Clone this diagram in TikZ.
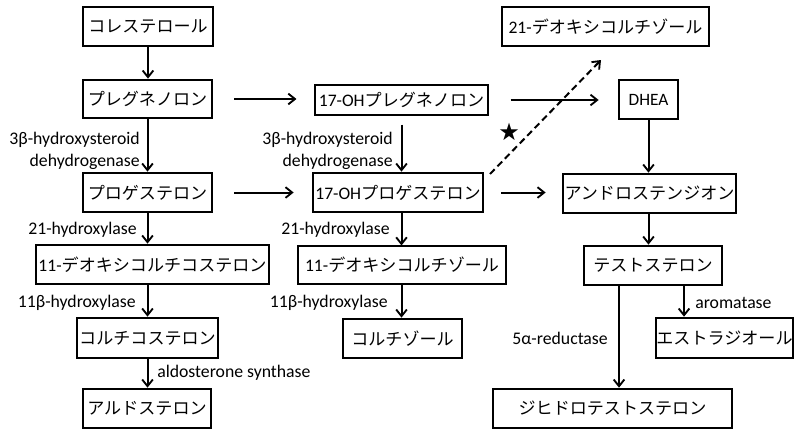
\documentclass[tikz,border=0pt]{standalone}
\usepackage{fontspec}
\setmainfont{Carlito}
\newfontfamily\jp{Noto Sans CJK JP}
\newfontfamily\symf{DejaVu Sans}
\usetikzlibrary{arrows.meta}
\begin{document}
\begin{tikzpicture}[x=0.75pt,y=-0.75pt,
  thinbox/.style={draw, line width=0.8pt, inner sep=0pt, font=\jp\fontsize{12.8}{14}\selectfont},
  thickbox/.style={thinbox, line width=2pt},
  arr/.style={line width=1.5pt, -{Straight Barb[length=5pt,width=8pt,line width=1.4pt]}},
  lbl/.style={inner sep=0pt, font=\fontsize{13.3}{16.5}\selectfont}]
\useasboundingbox (0,0) rectangle (795,429);
% left column
\node[thinbox, minimum width={130*0.75pt}, minimum height={39*0.75pt}] (chol) at (148,26.5) {コレステロール};
\node[thickbox, minimum width={129*0.75pt}, minimum height={38*0.75pt}] (preg) at (147.5,99) {プレグネノロン};
\node[thickbox, minimum width={129*0.75pt}, minimum height={39*0.75pt}] (prog) at (147.5,192.5) {プロゲステロン};
\node[thickbox, minimum width={233*0.75pt}, minimum height={39*0.75pt}] (doc) at (152.5,264.5) {{\rmfamily\fontsize{13.2}{14}\selectfont 11-}デオキシコルチコステロン};
\node[thickbox, minimum width={141*0.75pt}, minimum height={40*0.75pt}] (cort) at (147.5,338) {コルチコステロン};
\node[thickbox, minimum width={128*0.75pt}, minimum height={39*0.75pt}] (aldo) at (147,408.5) {アルドステロン};
% middle column
\node[thinbox, minimum width={173*0.75pt}, minimum height={30*0.75pt}] (ohpreg) at (401.5,100) {{\rmfamily\fontsize{13.2}{14}\selectfont 17-OH}プレグネノロン};
\node[thickbox, minimum width={170*0.75pt}, minimum height={39*0.75pt}] (ohprog) at (398,192.5) {{\rmfamily\fontsize{13.2}{14}\selectfont 17-OH}プロゲステロン};
\node[thinbox, minimum width={208*0.75pt}, minimum height={38*0.75pt}] (dcol) at (402,265) {{\rmfamily\fontsize{13.2}{14}\selectfont 11-}デオキシコルチゾール};
\node[thickbox, minimum width={119*0.75pt}, minimum height={39*0.75pt}] (cortisol) at (402.5,338.5) {コルチゾール};
% right column
\node[thickbox, minimum width={207*0.75pt}, minimum height={39*0.75pt}] (d21) at (605.5,26.5) {{\rmfamily\fontsize{13.2}{14}\selectfont 21-}デオキシコルチゾール};
\node[thickbox, minimum width={59*0.75pt}, minimum height={39*0.75pt}, font=\rmfamily\fontsize{13}{14}\selectfont] (dhea) at (648.5,99.5) {DHEA};
\node[thickbox, minimum width={173*0.75pt}, minimum height={39*0.75pt}] (andro) at (649.5,193.5) {アンドロステンジオン};
\node[thickbox, minimum width={138*0.75pt}, minimum height={39*0.75pt}] (testo) at (653,265.5) {テストステロン};
\node[thickbox, minimum width={137*0.75pt}, minimum height={40*0.75pt}] (estra) at (724.5,338) {エストラジオール};
\node[thickbox, minimum width={239*0.75pt}, minimum height={39*0.75pt}] (dht) at (612.5,408.5) {ジヒドロテストステロン};
% vertical arrows left
\draw[arr] (chol.south) -- (chol.south |- preg.north);
\draw[arr] (preg.south) -- (preg.south |- prog.north);
\draw[arr] (prog.south) -- (prog.south |- doc.north);
\draw[arr] (prog.south |- doc.south) -- (prog.south |- cort.north);
\draw[arr] (prog.south |- cort.south) -- (prog.south |- aldo.north);
% middle vertical arrows
\coordinate (m1) at ([yshift=-9*0.75pt]ohpreg.south);
\draw[arr] (m1) -- (m1 |- ohprog.north);
\draw[arr] (m1 |- ohprog.south) -- (m1 |- dcol.north);
\draw[arr] (m1 |- dcol.south) -- (m1 |- cortisol.north);
% horizontal arrows
\draw[arr] ([xshift=21*0.75pt]preg.east) -- ([xshift=-18*0.75pt]preg.east -| ohpreg.west);
\draw[arr] ([xshift=21*0.75pt]prog.east) -- ([xshift=-18*0.75pt]prog.east -| ohprog.west);
\draw[arr] ([xshift=22*0.75pt]ohpreg.east) -- ([xshift=-19*0.75pt]ohpreg.east -| dhea.west);
\draw[arr] ([xshift=17*0.75pt]ohprog.east) -- ([xshift=-16*0.75pt]ohprog.east -| andro.west);
% dashed
\coordinate (ds) at (490,174);
\coordinate (de) at (601,60);
\draw[arr, dashed, dash pattern=on 5pt off 3pt] (ds) -- (de);
% right vertical
\draw[arr] (dhea.south) -- (dhea.south |- andro.north);
\draw[arr] (dhea.south |- andro.south) -- (dhea.south |- testo.north);
\coordinate (t1) at (619,285);
\coordinate (t2) at (684,285);
\draw[arr] (t1 |- testo.south) -- (t1 |- dht.north);
\draw[arr] (t2 |- testo.south) -- (t2 |- estra.north);
% labels
\node[lbl, anchor=east, align=right] (l1) at (140,151) {3β-hydroxysteroid\\dehydrogenase};
\node[lbl, anchor=east, align=right] (l2) at (393,151) {3β-hydroxysteroid\\dehydrogenase};
\node[lbl, anchor=east] (l3) at (137,230) {21-hydroxylase};
\node[lbl, anchor=east] (l4) at (390,230) {21-hydroxylase};
\node[lbl, anchor=east] (l5) at (136,303) {11β-hydroxylase};
\node[lbl, anchor=east] (l6) at (388,303) {11β-hydroxylase};
\node[lbl, anchor=west] (l7) at (157,373) {aldosterone synthase};
\node[lbl, anchor=east] (l8) at (608,338) {5α-reductase};
\node[lbl, anchor=west] (l9) at (695,303) {aromatase};
\node[inner sep=0pt, font=\symf\fontsize{18}{18}\selectfont] (star) at (509,132) {★};
\end{tikzpicture}
\end{document}
